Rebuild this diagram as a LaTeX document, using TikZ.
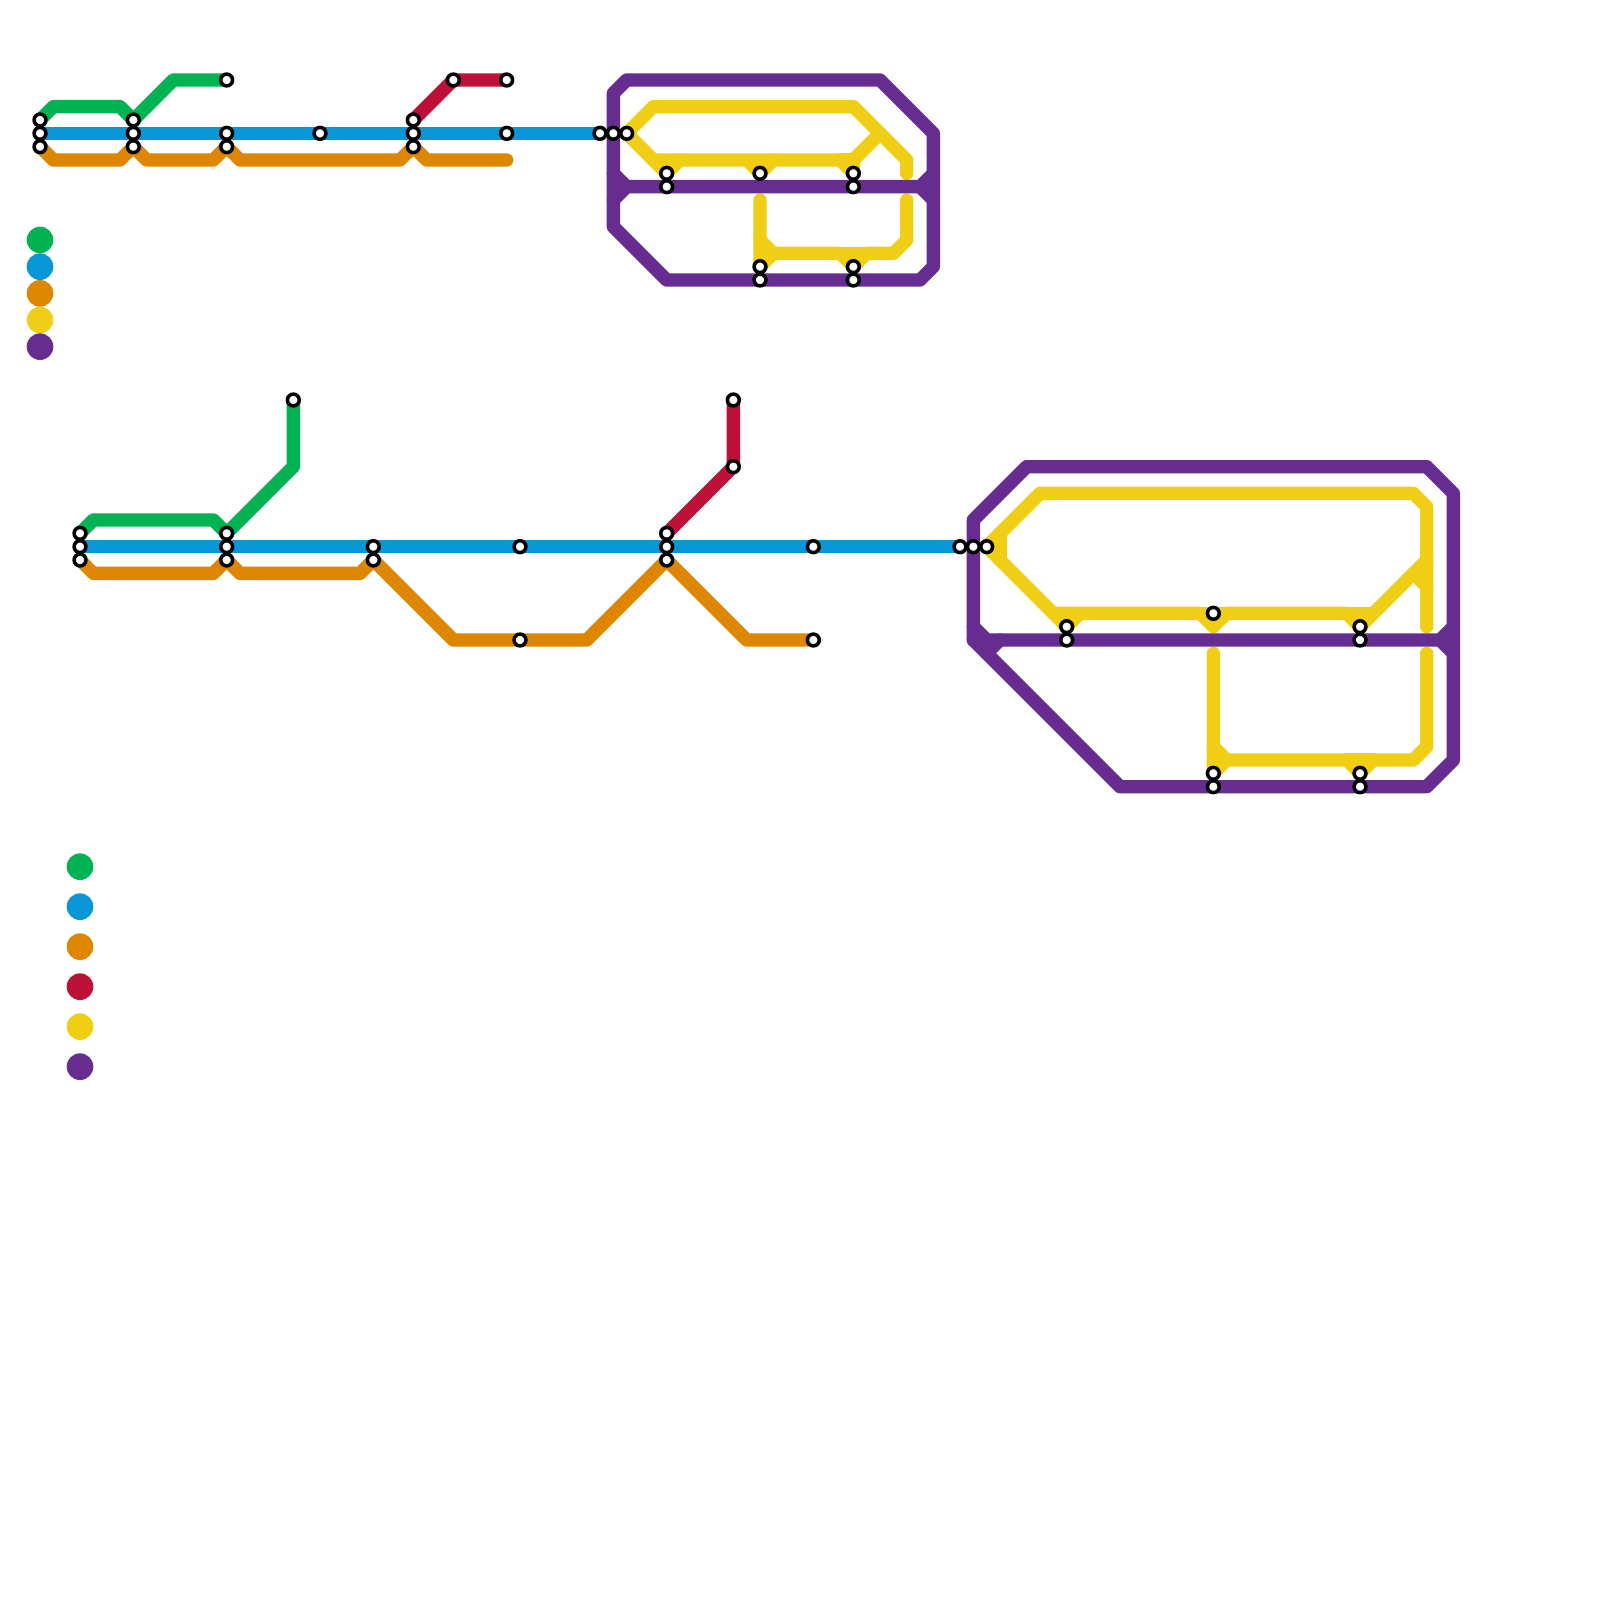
\documentclass[tikz,border=0pt]{standalone}
\usetikzlibrary{backgrounds}
\definecolor{mgreen}{HTML}{00B251}
\definecolor{mblue}{HTML}{0896D7}
\definecolor{morange}{HTML}{DF8600}
\definecolor{mred}{HTML}{BD1038}
\definecolor{myellow}{HTML}{F0CE15}
\definecolor{mpurple}{HTML}{662C90}
\tikzset{
  x=0.25cm,y=-0.25cm,
  metroline/.style={draw=#1,line width=0.25cm,line cap=round,line join=round},
  stationdot/.style={circle,draw=black,fill=white,line width=0.066cm,minimum size=0.222cm,inner sep=0pt},
  legenddot/.style={circle,fill=#1,minimum size=0.5cm,inner sep=0pt},
}
\newcommand{\stn}[2]{\node[stationdot] (s#1x#2) at (#1,#2) {};}
\begin{document}
\begin{tikzpicture}
\useasboundingbox (0,0) rectangle (120,120);
% stations
\foreach \a/\b in {3/9,3/10,3/11,10/9,10/10,10/11,17/6,17/10,17/11,24/10,31/9,31/10,31/11,34/6,38/6,38/10,45/10,46/10,47/10,
  50/13,50/14,57/13,64/13,64/14,57/20,57/21,64/20,64/21,
  6/40,6/41,6/42,17/40,17/41,17/42,22/30,28/41,28/42,39/41,39/48,50/40,50/41,50/42,55/30,55/35,61/41,61/48,72/41,73/41,74/41,
  80/47,80/48,91/46,102/47,102/48,91/58,91/59,102/58,102/59}
  {\stn{\a}{\b}}
% coordinates for free line ends
\coordinate (endO) at (38,12);
\coordinate (yA) at (68,13);
\coordinate (yB) at (68,15);
\coordinate (yC) at (57,15);
\coordinate (yD) at (107,47);
\coordinate (yE) at (107,49);
\coordinate (yF) at (91,49);
\coordinate (yG) at (75,40);
\coordinate (yH) at (75,42);
% legend
\node[legenddot=mgreen] (lg1) at (3,18) {};
\node[legenddot=mblue] (lb1) at (3,20) {};
\node[legenddot=morange] (lo1) at (3,22) {};
\node[legenddot=myellow] (ly1) at (3,24) {};
\node[legenddot=mpurple] (lp1) at (3,26) {};
\node[legenddot=mgreen] (lg2) at (6,65) {};
\node[legenddot=mblue] (lb2) at (6,68) {};
\node[legenddot=morange] (lo2) at (6,71) {};
\node[legenddot=mred] (lr2) at (6,74) {};
\node[legenddot=myellow] (ly2) at (6,77) {};
\node[legenddot=mpurple] (lp2) at (6,80) {};
\begin{scope}[on background layer]
% top map
\draw[metroline=mgreen] (s3x9.center) -- (4,8) -- (9,8) -- (s10x9.center) -- (13,6) -- (s17x6.center);
\draw[metroline=mblue] (s3x10.center) -- (s10x10.center) -- (s17x10.center) -- (s24x10.center) -- (s31x10.center) -- (s38x10.center) -- (s45x10.center);
\draw[metroline=morange] (s3x11.center) -- (4,12) -- (9,12) -- (s10x11.center) -- (11,12) -- (16,12) -- (s17x11.center) -- (18,12) -- (30,12) -- (s31x11.center) -- (32,12) -- (endO);
\draw[metroline=mred] (s31x9.center) -- (s34x6.center) -- (s38x6.center);
\draw[metroline=myellow] (s47x10.center) -- (49,8) -- (64,8) -- (68,12) -- (yA);
\draw[metroline=myellow] (s47x10.center) -- (s50x13.center) -- (51,12);
\draw[metroline=myellow] (49,12) -- (56,12) -- (s57x13.center) -- (58,12) -- (56,12);
\draw[metroline=myellow] (58,12) -- (63,12) -- (s64x13.center) -- (64,12) -- (66,10);
\draw[metroline=myellow] (63,12) -- (64,12);
\draw[metroline=myellow] (yC) -- (s57x20.center) -- (58,19) -- (63,19) -- (s64x20.center) -- (65,19) -- (67,19) -- (68,18) -- (yB);
\draw[metroline=myellow] (57,18) -- (58,19);
\draw[metroline=myellow] (63,19) -- (65,19);
\draw[metroline=mpurple] (46,7) -- (47,6) -- (66,6) -- (70,10) -- (70,20) -- (69,21) -- (50,21) -- (46,17) -- cycle;
\draw[metroline=mpurple] (46,13) -- (47,14) -- (69,14) -- (70,13);
\draw[metroline=mpurple] (46,15) -- (47,14);
\draw[metroline=mpurple] (69,14) -- (70,15);
% bottom map
\draw[metroline=mgreen] (s6x40.center) -- (7,39) -- (16,39) -- (s17x40.center) -- (22,35) -- (s22x30.center);
\draw[metroline=mblue] (s6x41.center) -- (s17x41.center) -- (s28x41.center) -- (s39x41.center) -- (s50x41.center) -- (s61x41.center) -- (s72x41.center);
\draw[metroline=morange] (s6x42.center) -- (7,43) -- (16,43) -- (s17x42.center) -- (18,43) -- (27,43) -- (s28x42.center) -- (34,48) -- (s39x48.center) -- (44,48) -- (s50x42.center) -- (56,48) -- (s61x48.center);
\draw[metroline=mred] (s50x40.center) -- (s55x35.center) -- (s55x30.center);
\draw[metroline=myellow] (s74x41.center) -- (78,37) -- (106,37) -- (107,38) -- (yD);
\draw[metroline=myellow] (yG) -- (yH);
\draw[metroline=myellow] (s74x41.center) -- (s80x47.center) -- (81,46);
\draw[metroline=myellow] (79,46) -- (90,46) -- (91,47) -- (92,46) -- (101,46) -- (s102x47.center) -- (103,46) -- (107,42);
\draw[metroline=myellow] (90,46) -- (92,46);
\draw[metroline=myellow] (101,46) -- (103,46);
\draw[metroline=myellow] (106,43) -- (107,44);
\draw[metroline=myellow] (yF) -- (s91x58.center) -- (92,57) -- (101,57) -- (s102x58.center) -- (103,57) -- (106,57) -- (107,56) -- (yE);
\draw[metroline=myellow] (91,56) -- (92,57);
\draw[metroline=myellow] (101,57) -- (103,57);
\draw[metroline=mpurple] (73,39) -- (77,35) -- (107,35) -- (109,37) -- (109,57) -- (107,59) -- (84,59) -- (73,48) -- cycle;
\draw[metroline=mpurple] (73,47) -- (74,48) -- (108,48) -- (109,47);
\draw[metroline=mpurple] (73,48) -- (74,48);
\draw[metroline=mpurple] (74,49) -- (75,48);
\draw[metroline=mpurple] (108,48) -- (109,49);
\end{scope}
\end{tikzpicture}
\end{document}
